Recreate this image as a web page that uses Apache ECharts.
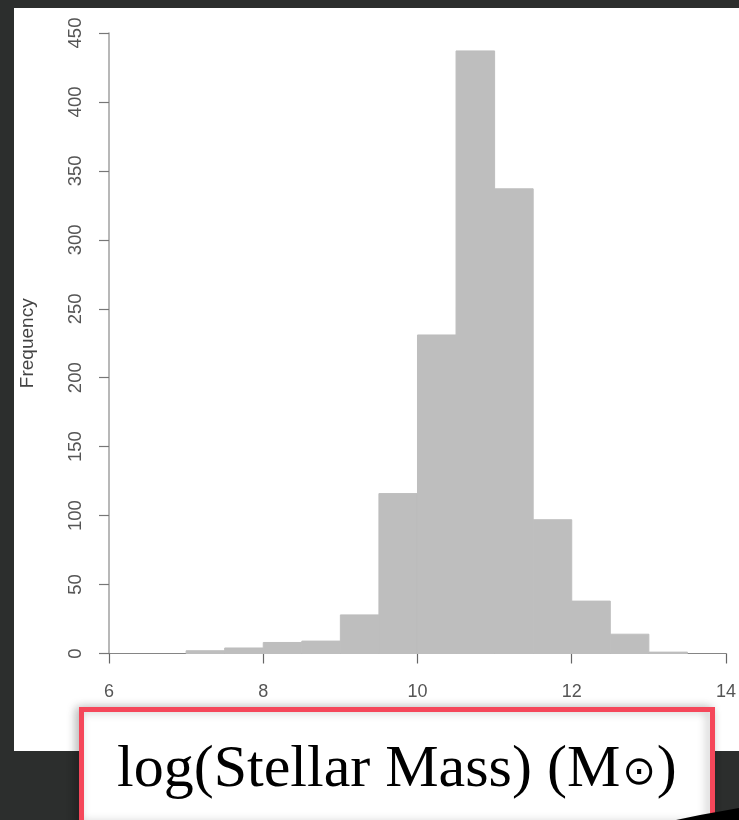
<!DOCTYPE html>
<html>
<head>
<meta charset="utf-8">
<script src="https://cdn.jsdelivr.net/npm/echarts@6/dist/echarts.min.js"></script>
<style>
html,body{margin:0;padding:0;background:#2c2e2d;}
#chart{width:739px;height:820px;}
</style>
</head>
<body>
<div id="chart"></div>
<script>
// Histogram data (bins of width 0.5)
const binStarts = [7.0, 7.5, 8.0, 8.5, 9.0, 9.5, 10.0, 10.5, 11.0, 11.5, 12.0, 12.5, 13.0];
const binWidth = 0.5;
const counts = [2, 4, 8, 9, 28, 116, 231, 437, 337, 97, 38, 14, 1];
const xTicks = [6, 8, 10, 12, 14];
const yTicks = [0, 50, 100, 150, 200, 250, 300, 350, 400, 450];
const yTitle = 'Frequency';
const xTitleMain = 'log(Stellar Mass) (M';
const xTitleSun = '⊙';
const xTitleEnd = ')';

const histData = binStarts.map((s, i) => [s, s + binWidth, counts[i]]);

const chart = echarts.init(document.getElementById('chart'), null, {renderer: 'canvas'});
chart.setOption({
  backgroundColor: '#2c2e2d',
  animation: false,
  grid: {left: 109, right: 8, top: 33, bottom: 166.5, containLabel: false},
  xAxis: {
    type: 'value',
    min: xTicks[0], max: xTicks[xTicks.length - 1], interval: 2,
    axisLine: {show: true, lineStyle: {color: '#858585', width: 1.2}},
    axisTick: {show: true, inside: false, length: 10, lineStyle: {color: '#666', width: 1.2}},
    axisLabel: {show: true, fontSize: 18, color: '#555', margin: 30, fontFamily: 'Liberation Sans'},
    splitLine: {show: false}
  },
  yAxis: {
    type: 'value',
    min: yTicks[0], max: yTicks[yTicks.length - 1], interval: 50,
    name: yTitle,
    nameLocation: 'middle',
    nameGap: 72,
    nameRotate: 90,
    nameTextStyle: {fontSize: 19, color: '#444', fontFamily: 'Liberation Sans'},
    axisLine: {show: true, lineStyle: {color: '#a0a0a0', width: 1.5}},
    axisTick: {show: true, inside: false, length: 10, lineStyle: {color: '#777', width: 1.2}},
    axisLabel: {show: true, rotate: 90, fontSize: 18.5, color: '#555', margin: 24, fontFamily: 'Liberation Sans'},
    splitLine: {show: false}
  },
  series: [{
    type: 'custom',
    data: histData,
    encode: {x: [0, 1], y: 2},
    renderItem: function (params, api) {
      const lo = api.value(0), hi = api.value(1), c = api.value(2);
      const p1 = api.coord([lo, c]);
      const p2 = api.coord([hi, 0]);
      return {
        type: 'rect',
        shape: {x: p1[0], y: p1[1], width: p2[0] - p1[0], height: p2[1] - p1[1]},
        style: {fill: '#bebebe', stroke: '#bebebe', lineWidth: 1}
      };
    },
    z: 2
  }],
  graphic: [
    {type: 'rect', z: -10, shape: {x: 14, y: 8, width: 725, height: 743}, style: {fill: '#ffffff'}, silent: true},
    {type: 'rect', z: 100, shape: {x: 81.5, y: 709.5, width: 631, height: 115},
      style: {fill: '#ffffff', stroke: '#f5475a', lineWidth: 5, shadowBlur: 10, shadowColor: 'rgba(0,0,0,0.25)', shadowOffsetX: -3}},
    {type: 'text', z: 101, left: 117, top: 740,
      style: {
        text: '{a|' + xTitleMain + '}{s|' + xTitleSun + '}{a|' + xTitleEnd + '}',
        rich: {
          a: {fontFamily: 'Liberation Serif', fontSize: 60, fill: '#000', color: '#000', verticalAlign: 'bottom', lineHeight: 66},
          s: {fontFamily: 'DejaVu Sans', fontSize: 40, fill: '#000', color: '#000', verticalAlign: 'bottom', lineHeight: 66, padding: [0, 1, 6, 2]}
        }
      }
    },
    {type: 'polygon', z: 102, shape: {points: [[676, 820], [700, 815], [739, 808], [739, 820]]}, style: {fill: '#000'}}
  ]
});
</script>
</body>
</html>
